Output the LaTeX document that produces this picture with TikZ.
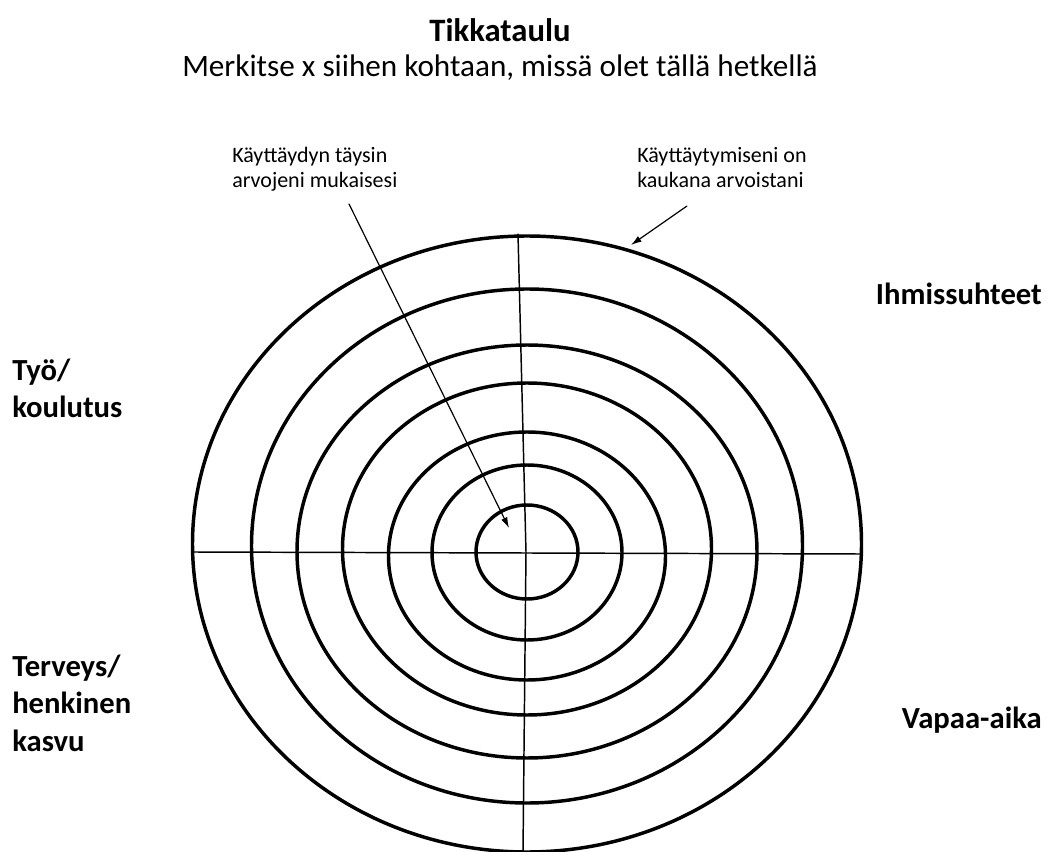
\documentclass[tikz,border=0pt]{standalone}
\usepackage{fontspec}
\setmainfont{Carlito}
\usetikzlibrary{positioning,arrows.meta}
\begin{document}
\begin{tikzpicture}[x=0.75pt, y=-0.75pt, line join=round, line cap=round, >={Latex[length=8pt,width=5pt]},
		ring/.style={line width=2.6pt},
		axis/.style={line width=1.1pt},
		pointer/.style={->, line width=0.9pt},
		note/.style={font=\fontsize{16.5}{19}\selectfont, align=left, inner sep=0pt, anchor=base west},
		area/.style={font=\fontsize{23}{28}\selectfont\bfseries, inner sep=0pt}]
	\useasboundingbox (0,0) rectangle (1047,852);
	\clip (0,0) rectangle (1047,852);
	
	% otsikot
	\node[font=\fontsize{24.5}{28}\selectfont\bfseries] (title) at (500,30) {Tikkataulu};
	\node[font=\fontsize{23.4}{28}\selectfont] (subtitle) at (500,68) {Merkitse x siihen kohtaan, missä olet tällä hetkellä};
	
	% renkaat
	\foreach \rx/\ry/\cy in {51/47/552, 95/87.5/552.5, 138.5/124/556, 184.5/166/549, 230/206.5/551.5, 275.5/257/546, 334.5/308/544}
		\draw[ring] (527,\cy) ellipse [x radius=\rx, y radius=\ry];
	
	% akselit
	\coordinate (north) at (518,234);
	\coordinate (centre) at (526,552);
	\coordinate (south) at (523,852);
	\coordinate (west) at (193,552);
	\coordinate (east) at (861,554);
	\draw[axis] (north) -- (centre) -- (south);
	\draw[axis] (west) -- (east);
	
	% selitteet
	\node[note] (inner) at (232,188) {Käyttäydyn täysin\\arvojeni mukaisesi};
	\node[note] (outer) at (637,188) {Käyttäytymiseni on\\kaukana arvoistani};
	\coordinate (tail1) at (349,204);
	\coordinate (tip1) at (509,528);
	\coordinate (tail2) at (687,206);
	\coordinate (tip2) at (631,245);
	\draw[pointer] (tail1) -- (tip1);
	\draw[pointer] (tail2) -- (tip2);
	
	% elämänalueet
	\node[area, anchor=base east] (rel) at (1042,305) {Ihmissuhteet};
	\node[area, anchor=base west, align=left] (work) at (12,418) {Työ/\\koulutus};
	\node[area, anchor=base west, align=left] (health) at (12,751) {Terveys/\\henkinen\\kasvu};
	\node[area, anchor=base east] (free) at (1042,728) {Vapaa-aika};
\end{tikzpicture}
\end{document}
